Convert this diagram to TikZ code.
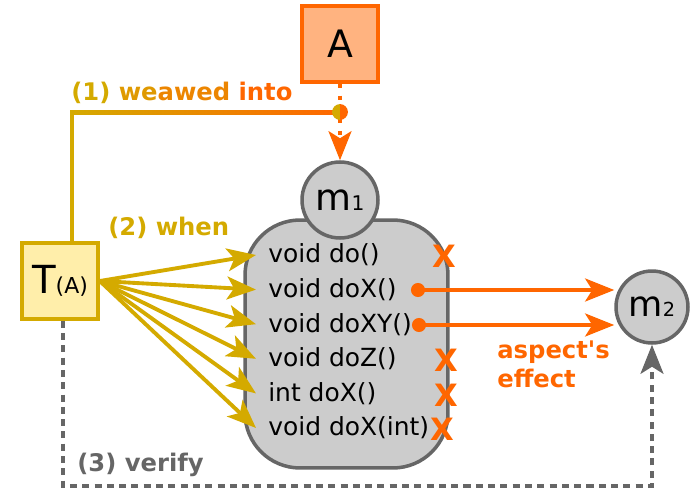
\documentclass[tikz,border=0pt]{standalone}
\usepackage{fontspec}
\setmainfont{DejaVu Sans}
\usetikzlibrary{arrows.meta,calc}

\definecolor{gold}{HTML}{D4AA00}
\definecolor{orng}{HTML}{FF6600}
\definecolor{grey}{HTML}{666666}
\definecolor{cellgrey}{HTML}{CCCCCC}
\definecolor{aspectfill}{HTML}{FFB380}
\definecolor{testfill}{HTML}{FFEEAA}

\begin{document}
\begin{tikzpicture}[x=0.02cm, y=-0.02cm,
	every node/.style={font=\fontsize{14.2}{17}\selectfont},
	box/.style={draw, line width=2pt, minimum size=1.52cm, inner sep=0pt},
	circ/.style={circle, draw=grey, fill=cellgrey, line width=2pt, minimum size=1.52cm, inner sep=0pt, font=\fontsize{21}{24}\selectfont},
	method/.style={anchor=west, inner xsep=6.8pt, inner ysep=0pt},
	xmark/.style={text=orng, inner sep=0pt, font=\fontsize{17.5}{19}\selectfont\bfseries},
	lbl/.style={anchor=base west, inner sep=0pt, font=\fontsize{13.8}{16}\selectfont\bfseries},
	head/.style={-{Stealth[length=16.5pt, width=13pt, inset=4pt]}},
	dot/.style={circle, fill=orng, inner sep=0pt, minimum size=8pt}]
	\useasboundingbox (0,0) rectangle (697,490);

	% aspect, test and the two methods
	\node[box, draw=orng, fill=aspectfill, font=\fontsize{21.5}{24}\selectfont] (a) at (340,44) {A};
	\node[box, draw=gold, fill=testfill, font=\fontsize{22}{24}\selectfont] (t) at (60,281) {T{\fontsize{12.5}{14}\selectfont(A)}};
	\node[draw=grey, fill=cellgrey, line width=2pt, rounded corners=1.1cm, minimum width=4.06cm, minimum height=4.96cm] (body) at (346.5,344) {};
	\node[circ] (m1) at (340,200) {m{\fontsize{11.5}{13}\selectfont 1}};
	\node[circ, minimum size=1.44cm, font=\fontsize{20}{22}\selectfont] (m2) at (652,307) {m{\fontsize{11}{13}\selectfont 2}};

	\foreach \sig [count=\i] in {void do(), void doX(), void doXY(), void doZ(), int doX(), void doX(int)}
		\node[method] (r\i) at (256, {220.4+34.6*\i}) {\sig};
	\foreach \i/\xx in {1/444, 4/446, 5/446, 6/442}
		\node[xmark] (x\i) at (\xx, {222+34.6*\i}) {X};

	% (1) weaving
	\coordinate (weave) at (340,112);
	\coordinate (tup) at ($(t.north)+(12,0)$);
	\draw[gold, line width=2.2pt] (tup) -- (tup |- weave);
	\shade[left color=gold, right color=orng] (70,110) rectangle (340,114);
	\draw[orng, line width=2.3pt, dash pattern=on 2.3pt off 4.4pt, head] (a) -- (m1);
	\fill[gold] (weave) ++(90:4.5pt) arc (90:270:4.5pt) -- cycle;
	\fill[orng] (weave) ++(-90:4.5pt) arc (-90:90:4.5pt) -- cycle;
	\node[lbl] (l1) at (71,100) {\textcolor{gold}{(1)} \textcolor{gold!75!orng}{we}\textcolor{gold!45!orng}{awed} \textcolor{orng}{into}};

	% (2) pointcut
	\node[lbl, text=gold] (l2) at (108,235) {(2) when};
	\foreach \i in {1,...,6}
		\draw[gold, line width=2.2pt, head] (t.east) -- (r\i.west);

	% effect on m2
	\node[dot] (d2) at (418,290) {};
	\node[dot] (d3) at (419,325) {};
	\draw[orng, line width=2.6pt, head] (d2.center) -- (d2 -| m2.west);
	\draw[orng, line width=2.6pt, head] (d3.center) -- (d3 -| m2.west);
	\node[lbl, text=orng] (e1) at (497,358) {aspect\textquotesingle s};
	\node[lbl, text=orng] (e2) at (497,387) {effect};

	% (3) check
	\coordinate (floor) at (0,486);
	\coordinate (tdown) at ($(t.south)+(3,0)$);
	\draw[grey, line width=2.2pt, dash pattern=on 4pt off 3pt, head] (tdown) -- (tdown |- floor) -| (m2.south);
	\node[lbl, text=grey] (l3) at (77,471) {(3) verify};
\end{tikzpicture}
\end{document}
